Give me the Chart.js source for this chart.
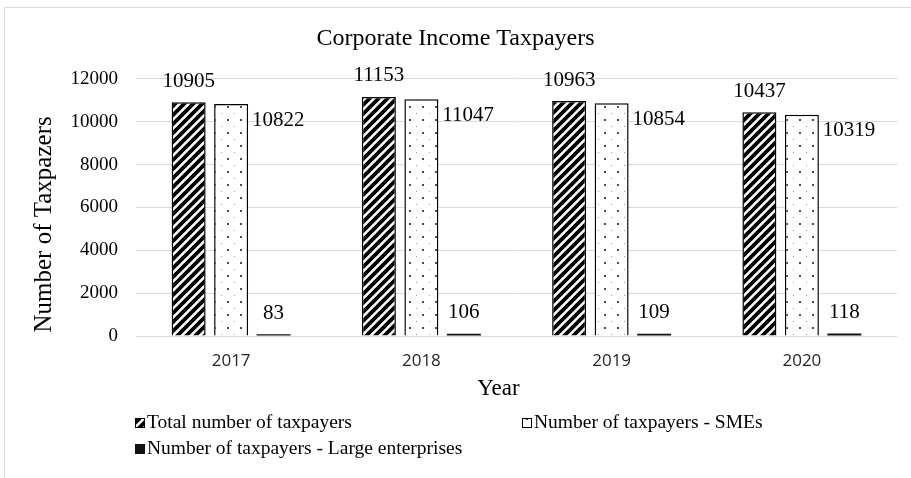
<!DOCTYPE html>
<html>
<head>
<meta charset="utf-8">
<title>Corporate Income Taxpayers</title>
<script src="https://cdn.jsdelivr.net/npm/chart.js@4/dist/chart.umd.min.js"></script>
<style>
  html, body { margin: 0; padding: 0; background: #fff; }
  #wrap { width: 911px; height: 478px; position: relative; }
</style>
</head>
<body>
<div id="wrap"><canvas id="chart" width="911" height="478"></canvas></div>
<script>
// ---- data ----
const years = ['2017', '2018', '2019', '2020'];
const totalTaxpayers = [10905, 11153, 10963, 10437];
const smeTaxpayers = [10822, 11047, 10854, 10319];
const largeTaxpayers = [83, 106, 109, 118];
const yTickValues = [0, 2000, 4000, 6000, 8000, 10000, 12000];
const seriesNames = [
  'Total number of taxpayers',
  'Number of taxpayers - SMEs',
  'Number of taxpayers - Large enterprises'
];
const chartTitle = 'Corporate Income Taxpayers';
const yAxisTitle = 'Number of Taxpazers';
const xAxisTitle = 'Year';

const SERIF = '"Liberation Serif", "Times New Roman", serif';
const SANS = '"Open Sans", "Liberation Sans", sans-serif';

const canvas = document.getElementById('chart');
const ctx = canvas.getContext('2d');

// wide upward diagonal hatch, black on white
function makeHatch() {
  const s = 9;
  const c = document.createElement('canvas');
  c.width = s; c.height = s;
  const g = c.getContext('2d');
  g.fillStyle = '#fff';
  g.fillRect(0, 0, s, s);
  g.strokeStyle = '#000';
  g.lineWidth = 3.8;
  g.beginPath();
  g.moveTo(-2, s + 2); g.lineTo(s + 2, -2);
  g.moveTo(-3, 3); g.lineTo(3, -3);
  g.moveTo(s - 3, s + 3); g.lineTo(s + 3, s - 3);
  g.stroke();
  return ctx.createPattern(c, 'repeat');
}

// sparse dotted fill
function makeDots() {
  const s = 13;
  const c = document.createElement('canvas');
  c.width = s; c.height = s;
  const g = c.getContext('2d');
  g.fillStyle = '#fff';
  g.fillRect(0, 0, s, s);
  g.fillStyle = '#111';
  g.beginPath(); g.arc(7, 3, 1, 0, Math.PI * 2); g.fill();
  g.fillStyle = '#9a9a9a';
  g.fillRect(0, 9, 1, 1);
  return ctx.createPattern(c, 'repeat');
}

const hatch = makeHatch();
const dots = makeDots();

// frame, value labels, axis titles and legend
const decorations = {
  id: 'decorations',
  beforeDraw(chart) {
    const c = chart.ctx;
    c.save();
    c.strokeStyle = '#d9d9d9';
    c.lineWidth = 1;
    c.strokeRect(4.5, 7.5, 1200, 1200);
    c.restore();
  },
  afterDatasetsDraw(chart) {
    const c = chart.ctx;
    c.save();
    c.font = '21px ' + SERIF;
    c.fillStyle = '#000';
    c.textBaseline = 'middle';
    chart.data.datasets.forEach((ds, di) => {
      const meta = chart.getDatasetMeta(di);
      meta.data.forEach((bar, i) => {
        const v = ds.data[i];
        if (di === 1) {
          c.textAlign = 'left';
          c.fillText(String(v), bar.x + bar.width / 2 + 4, bar.y + 16);
        } else {
          c.textAlign = 'center';
          c.fillText(String(v), bar.x, bar.y - 21);
        }
      });
    });
    c.restore();
  },
  afterDraw(chart) {
    const c = chart.ctx;
    const area = chart.chartArea;
    c.save();
    c.fillStyle = '#000';
    c.textBaseline = 'middle';
    c.textAlign = 'center';

    // y axis title
    c.save();
    c.font = '25px ' + SERIF;
    c.translate(44, (area.top + area.bottom + 34) / 2);
    c.rotate(-Math.PI / 2);
    c.fillText(yAxisTitle, 0, 0);
    c.restore();

    // x axis title
    c.font = '23px ' + SERIF;
    c.fillText(xAxisTitle, (area.left + area.right) / 2 - 18, area.bottom + 53);

    // legend
    const items = chart.data.datasets.map((ds, i) => ({
      text: ds.label,
      fill: ds.backgroundColor,
      border: i === 2 ? ds.backgroundColor : '#000'
    }));
    const spots = [[135, 423], [522, 423], [135, 449]];
    c.font = '19.5px ' + SERIF;
    c.textAlign = 'left';
    items.forEach((it, i) => {
      const [x, y] = spots[i];
      c.fillStyle = it.fill;
      c.fillRect(x, y - 5, 10, 10);
      c.strokeStyle = it.border;
      c.lineWidth = 1;
      c.strokeRect(x + 0.5, y - 4.5, 9, 9);
      c.fillStyle = '#000';
      c.fillText(it.text, x + 12, y);
    });
    c.restore();
  }
};

new Chart(ctx, {
  type: 'bar',
  data: {
    labels: years,
    datasets: [
      {
        label: seriesNames[0],
        data: totalTaxpayers,
        backgroundColor: hatch,
        borderColor: '#000',
        borderWidth: 1.5
      },
      {
        label: seriesNames[1],
        data: smeTaxpayers,
        backgroundColor: dots,
        borderColor: '#000',
        borderWidth: 1.5
      },
      {
        label: seriesNames[2],
        data: largeTaxpayers,
        backgroundColor: '#111',
        borderWidth: 0
      }
    ]
  },
  options: {
    responsive: false,
    animation: false,
    devicePixelRatio: 1,
    categoryPercentage: 0.67,
    barPercentage: 0.8,
    layout: { padding: { top: 0, left: 7, right: 7, bottom: 74 } },
    plugins: {
      legend: { display: false },
      tooltip: { enabled: false },
      title: {
        display: true,
        text: chartTitle,
        color: '#000',
        font: { family: SERIF, size: 24, weight: 'normal' },
        padding: { top: 24, bottom: 26 }
      }
    },
    scales: {
      x: {
        grid: { display: false, drawTicks: false },
        border: { display: false },
        ticks: {
          color: '#262626',
          font: { family: SANS, size: 17 },
          padding: 15
        },
        afterFit(scale) { scale.height = 68; }
      },
      y: {
        min: 0,
        max: 12000,
        grid: { color: '#d9d9d9', lineWidth: 1, drawTicks: false },
        border: { display: false },
        ticks: {
          color: '#000',
          font: { family: SERIF, size: 19 },
          padding: 18,
          callback: v => String(v)
        },
        afterBuildTicks(scale) {
          scale.ticks = yTickValues.map(v => ({ value: v }));
        },
        afterFit(scale) { scale.width = 129; }
      },
      spacer: {
        type: 'linear',
        position: 'right',
        display: true,
        grid: { display: false, drawTicks: false },
        border: { display: false },
        ticks: { display: false },
        afterFit(scale) { scale.width = 7; }
      }
    }
  },
  plugins: [decorations]
});
</script>
</body>
</html>
